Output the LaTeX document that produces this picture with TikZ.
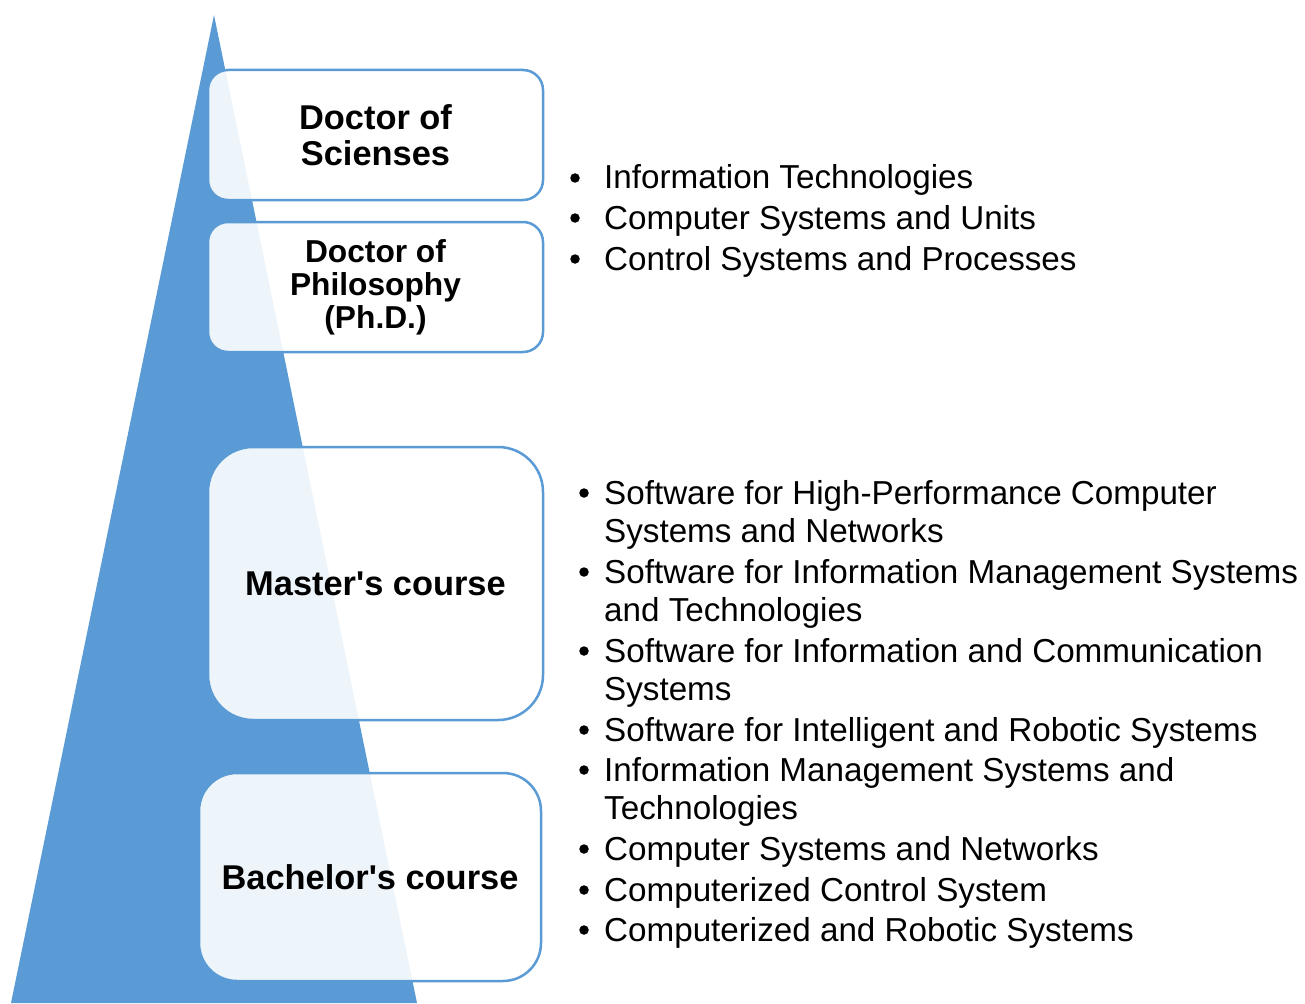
\documentclass[tikz,border=0pt]{standalone}
\usepackage{fontspec}
\setmainfont{Liberation Sans}[Ligatures=TeXOff]
\definecolor{tblue}{RGB}{91,155,213}
\tikzset{
  levelbox/.style={draw=tblue, line width=2.5, fill=white, fill opacity=0.9, text opacity=1,
    rounded corners=#1, inner sep=0, align=center, rectangle},
  levelbox/.default=20,
  bigbold/.style={font=\bfseries\fontsize{34.4}{36}\selectfont},
  itemtext/.style={anchor=base west, inner sep=0, align=left, font=\fontsize{33.2}{38}\selectfont},
  bul/.style={circle, fill=black, inner sep=0, minimum size=9.5}
}
\begin{document}
\begin{tikzpicture}[x=1pt,y=-1pt]
\useasboundingbox (0,0) rectangle (1305,1003);
% triangle
\fill[tblue] (214,15) -- (417,1003) -- (11,1003) -- cycle;
% level boxes
\node[levelbox=20, bigbold, minimum width=335, minimum height=130] (ds) at (375.5,135)
  {Doctor of\\Scienses};
\node[levelbox=20, minimum width=335, minimum height=130, font=\bfseries\fontsize{31.7}{33}\selectfont] (phd) at (375.5,287)
  {Doctor of\\Philosophy\\(Ph.D.)};
\node[levelbox=45, bigbold, minimum width=335, minimum height=273] (ms) at (375.5,583.5)
  {Master's course};
\node[levelbox=38, bigbold, minimum width=342, minimum height=208] (bs) at (370,877)
  {Bachelor's course};
% top list
\node[bul] (b1) at (575,178) {};
\node[itemtext] (t1) at (604,189) {Information Technologies};
\node[bul] (b2) at (575,218) {};
\node[itemtext] (t2) at (604,229) {Computer Systems and Units};
\node[bul] (b3) at (575,259) {};
\node[itemtext] (t3) at (604,270) {Control Systems and Processes};
% bottom list (multi-line items are placed by the baseline of their last line)
\node[bul] (c1) at (584,493) {};
\node[itemtext] (u1) at (604,542) {Software for High-Performance Computer\\Systems and Networks};
\node[bul] (c2) at (584,572) {};
\node[itemtext] (u2) at (604,621) {Software for Information Management Systems\\and Technologies};
\node[bul] (c3) at (584,651) {};
\node[itemtext] (u3) at (604,700) {Software for Information and Communication\\Systems};
\node[bul] (c4) at (584,730) {};
\node[itemtext] (u4) at (604,741) {Software for Intelligent and Robotic Systems};
\node[bul] (c5) at (584,770) {};
\node[itemtext] (u5) at (604,819) {Information Management Systems and\\Technologies};
\node[bul] (c6) at (584,849) {};
\node[itemtext] (u6) at (604,860) {Computer Systems and Networks};
\node[bul] (c7) at (584,890) {};
\node[itemtext] (u7) at (604,901) {Computerized Control System};
\node[bul] (c8) at (584,930) {};
\node[itemtext] (u8) at (604,941) {Computerized and Robotic Systems};
\end{tikzpicture}
\end{document}
